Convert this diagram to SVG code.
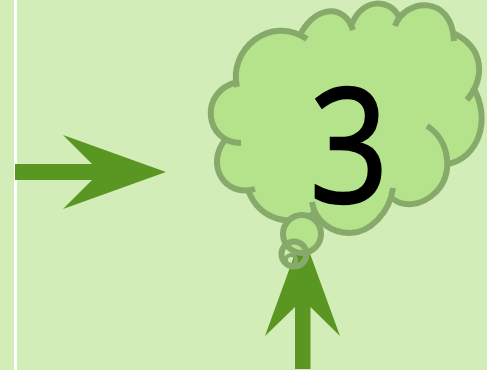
<svg xmlns="http://www.w3.org/2000/svg" width="487" height="370" viewBox="0 0 487 370">
<style>
.c{fill:#b4e38b;stroke:none}
.s{fill:none;stroke:#87aa6b;stroke-width:6;stroke-linecap:butt}
.b{fill:#b4e38b;stroke:#87aa6b;stroke-width:6}
.a{fill:#5a9622}
</style>
<rect width="487" height="370" fill="#d2edb7"/>
<rect x="14" width="3" height="370" fill="#fff"/>
<g id="connectors">
<path class="a" d="M15 164H92L63 135L166 172L63 209L92 180H15Z"/>
<path class="a" d="M295 369V307L265 336L302.500 233L340 336L310.500 307V369Z"/>
</g>
<g id="cloud">
<path class="c" d="M237 87C228 50 270 14 303 36C318 6 345 6 353 28C362 -2 390 -2 398 18C420 -6 452 5 454 38C478 48 486 75 473 90C492 120 478 158 448 163C445 200 410 215 392 196C378 240 330 245 313 212C295 232 260 220 248 190C220 195 205 165 225 140C203 130 200 92 237 84Z"/>
<path class="s" d="M237 87C228 50 270 14 307 39"/>
<path class="s" d="M301 33C318 4 345 5 353 30"/>
<path class="s" d="M352 24C362 -2 390 -2 399 17"/>
<path class="s" d="M395 26C405 -2 452 -6 454 41"/>
<path class="s" d="M453 33C485 48 485 78 467 100"/>
<path class="s" d="M473 87C492 120 478 158 448 164"/>
<path class="s" d="M427 126C450 140 454 175 436 192C420 208 402 206 393 199"/>
<path class="s" d="M393 188C390 212 370 233 350 233C332 233 315 222 312 202"/>
<path class="s" d="M316 212C295 228 260 222 248 190"/>
<path class="s" d="M255 189C225 198 205 165 225 140"/>
<path class="s" d="M241 143C205 143 198 92 237 82"/>
</g>
<g id="thought">
<circle class="b" cx="302" cy="234" r="19"/>
<circle class="s" cx="294" cy="254" r="12.500"/>
<circle class="s" cx="291" cy="260" r="5" style="stroke-width:4"/>
</g>
<g id="label"><text transform="translate(349 202) scale(.84 .97)" font-family="'Open Sans',sans-serif" font-size="165" text-anchor="middle" fill="#000" stroke="#000" stroke-width="2.500">3</text></g>
</svg>
